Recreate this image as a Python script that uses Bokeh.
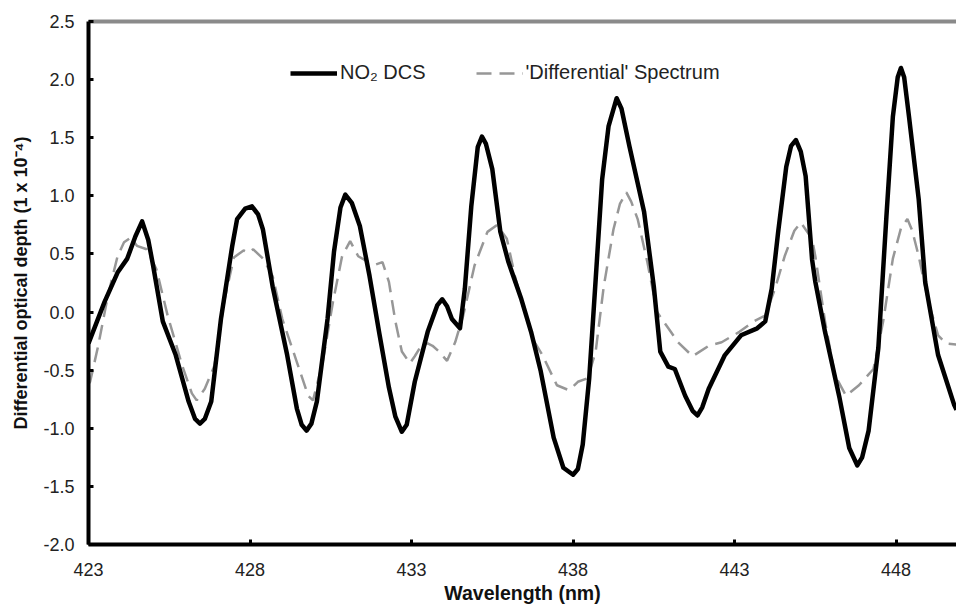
from bokeh.plotting import figure
from bokeh.models import Range1d, LinearAxis, FixedTicker, NumeralTickFormatter, Legend, LegendItem
from bokeh.embed import file_html
from bokeh.resources import INLINE

# NO2 DCS (black solid)
wl_dcs = [423.0, 423.5, 423.9, 424.2, 424.45, 424.66, 424.85, 425.0, 425.3, 425.7, 426.1, 426.3, 426.45,
          426.6, 426.8, 427.1, 427.45, 427.6, 427.85, 428.06, 428.25, 428.4, 428.7, 429.15, 429.45, 429.6,
          429.75, 429.9, 430.07, 430.4, 430.6, 430.8, 430.95, 431.15, 431.4, 431.7, 432.0, 432.3, 432.5,
          432.7, 432.85, 433.1, 433.5, 433.8, 433.95, 434.1, 434.25, 434.5, 434.65, 434.85, 435.05, 435.18,
          435.3, 435.5, 435.75, 436.0, 436.4, 436.7, 437.0, 437.4, 437.7, 438.0, 438.15, 438.3, 438.5,
          438.7, 438.9, 439.1, 439.35, 439.5, 439.75, 440.2, 440.5, 440.7, 440.95, 441.15, 441.47, 441.7,
          441.85, 442.0, 442.2, 442.7, 443.2, 443.7, 443.95, 444.15, 444.35, 444.6, 444.75, 444.9, 445.05,
          445.2, 445.4, 445.5, 445.8, 446.25, 446.55, 446.8, 446.95, 447.15, 447.45, 447.7, 447.9, 448.05,
          448.15, 448.25, 448.4, 448.7, 448.9, 449.3, 449.8, 449.87]
od_dcs = [-0.27, 0.09, 0.34, 0.46, 0.65, 0.78, 0.62, 0.40, -0.08, -0.37, -0.77, -0.92, -0.96,
          -0.92, -0.77, -0.06, 0.57, 0.80, 0.89, 0.91, 0.84, 0.71, 0.22, -0.37, -0.83, -0.97,
          -1.02, -0.96, -0.77, -0.06, 0.52, 0.90, 1.01, 0.94, 0.74, 0.31, -0.18, -0.65, -0.90,
          -1.03, -0.97, -0.60, -0.17, 0.06, 0.11, 0.05, -0.06, -0.14, 0.20, 0.91, 1.42, 1.51,
          1.45, 1.23, 0.69, 0.43, 0.11, -0.17, -0.51, -1.08, -1.34, -1.40, -1.35, -1.14, -0.57,
          0.28, 1.14, 1.60, 1.84, 1.75, 1.42, 0.86, 0.22, -0.34, -0.47, -0.49, -0.72, -0.85,
          -0.89, -0.82, -0.66, -0.37, -0.20, -0.14, -0.08, 0.20, 0.69, 1.25, 1.43, 1.48, 1.38,
          1.17, 0.45, 0.26, -0.17, -0.74, -1.17, -1.32, -1.25, -1.02, -0.31, 0.82, 1.68, 2.02,
          2.10, 2.02, 1.68, 0.97, 0.26, -0.37, -0.80, -0.84]

# 'Differential' spectrum (grey dashed)
wl_diff = [423.0, 423.05, 423.3, 423.6, 423.9, 424.1, 424.3, 424.5, 424.8, 425.1, 425.45, 425.9, 426.2,
           426.35, 426.6, 426.9, 427.2, 427.5, 427.8, 427.95, 428.1, 428.4, 428.7, 429.0, 429.45, 429.8,
           429.95, 430.25, 430.57, 430.85, 431.1, 431.35, 431.6, 431.9, 432.1, 432.3, 432.5, 432.7, 432.95,
           433.1, 433.3, 433.5, 433.65, 433.85, 434.1, 434.35, 434.6, 434.95, 435.35, 435.65, 435.95, 436.2,
           436.45, 436.75, 437.05, 437.5, 437.85, 438.0, 438.15, 438.45, 438.7, 438.95, 439.25, 439.45,
           439.65, 439.8, 440.0, 440.3, 440.6, 440.95, 441.25, 441.7, 442.2, 442.6, 443.15, 443.6, 443.95,
           444.25, 444.55, 444.85, 445.05, 445.4, 445.5, 445.8, 446.1, 446.45, 446.85, 447.3, 447.6, 447.9,
           448.15, 448.35, 448.5, 448.7, 449.0, 449.3, 449.55, 449.87]
od_diff = [-0.62, -0.60, -0.29, 0.14, 0.48, 0.60, 0.64, 0.57, 0.54, 0.37, -0.03, -0.46, -0.70,
           -0.76, -0.66, -0.46, 0.09, 0.47, 0.53, 0.51, 0.54, 0.46, 0.31, -0.06, -0.43, -0.72,
           -0.76, -0.43, 0.09, 0.48, 0.61, 0.48, 0.44, 0.41, 0.43, 0.26, -0.08, -0.34, -0.44,
           -0.38, -0.29, -0.27, -0.29, -0.34, -0.42, -0.26, -0.03, 0.40, 0.69, 0.75, 0.63, 0.31,
           0.05, -0.23, -0.37, -0.63, -0.67, -0.64, -0.60, -0.57, -0.34, 0.22, 0.71, 0.93,
           1.03, 0.95, 0.80, 0.43, 0.00, -0.14, -0.26, -0.38, -0.29, -0.26, -0.17, -0.08, -0.03,
           0.20, 0.48, 0.70, 0.77, 0.63, 0.48, -0.08, -0.54, -0.72, -0.63, -0.49, -0.08, 0.46,
           0.72, 0.80, 0.70, 0.48, 0.09, -0.20, -0.27, -0.28]

x_ticks = [423, 428, 433, 438, 443, 448]
y_ticks = [-2.0, -1.5, -1.0, -0.5, 0.0, 0.5, 1.0, 1.5, 2.0, 2.5]

FONT = "Liberation Sans"

p = figure(width=956, height=606, output_backend="svg", toolbar_location=None,
           x_range=Range1d(423, 449.87), y_range=Range1d(-2.0, 2.5),
           min_border_left=88, min_border_right=0, min_border_top=21, min_border_bottom=57,
           x_axis_label="Wavelength (nm)",
           y_axis_label="Differential optical depth (1 x 10\u207b\u2074)")
p.outline_line_color = None
p.xgrid.visible = False
p.ygrid.visible = False
p.background_fill_color = "white"
p.border_fill_color = "white"

for ax in (p.xaxis[0], p.yaxis[0]):
    ax.axis_line_width = 4
    ax.axis_line_color = "black"
    ax.major_tick_in = 5
    ax.major_tick_out = 0
    ax.major_tick_line_width = 3
    ax.major_tick_line_color = "black"
    ax.minor_tick_line_color = None
    ax.major_label_text_font = FONT
    ax.major_label_text_font_size = "18px"
    ax.major_label_text_color = "#222222"
    ax.axis_label_text_font = FONT
    ax.axis_label_text_font_style = "bold"
    ax.axis_label_text_color = "#111111"

p.xaxis[0].axis_label_text_font_size = "19.5px"
p.yaxis[0].axis_label_text_font_size = "18px"
p.xaxis[0].ticker = FixedTicker(ticks=x_ticks)
p.yaxis[0].ticker = FixedTicker(ticks=y_ticks)
p.yaxis[0].formatter = NumeralTickFormatter(format="0.0")
p.xaxis[0].major_label_standoff = 18
p.xaxis[0].axis_label_standoff = 3
p.yaxis[0].major_label_standoff = 14
p.yaxis[0].axis_label_standoff = 9

top = LinearAxis(ticker=FixedTicker(ticks=[]), axis_line_color="#8a8a8a", axis_line_width=4,
                 major_tick_line_color=None, minor_tick_line_color=None,
                 major_label_text_font_size="0px")
p.add_layout(top, "above")

r_diff = p.line(wl_diff, od_diff, line_color="#979797", line_width=2.5, line_dash="15 8")
r_dcs = p.line(wl_dcs, od_dcs, line_color="black", line_width=4.5, line_join="round")

legend = Legend(items=[LegendItem(label="NO\u2082 DCS", renderers=[r_dcs]),
                       LegendItem(label="'Differential' Spectrum", renderers=[r_diff])],
                orientation="horizontal", location=(202, 460),
                glyph_width=47, glyph_height=20, label_standoff=3, spacing=50,
                padding=0, margin=0, border_line_color=None, background_fill_alpha=0,
                label_text_font=FONT, label_text_font_size="20px", label_text_color="#222222",
                label_height=20)
p.add_layout(legend, "center")

open("out.html", "w").write(file_html(p, INLINE))
